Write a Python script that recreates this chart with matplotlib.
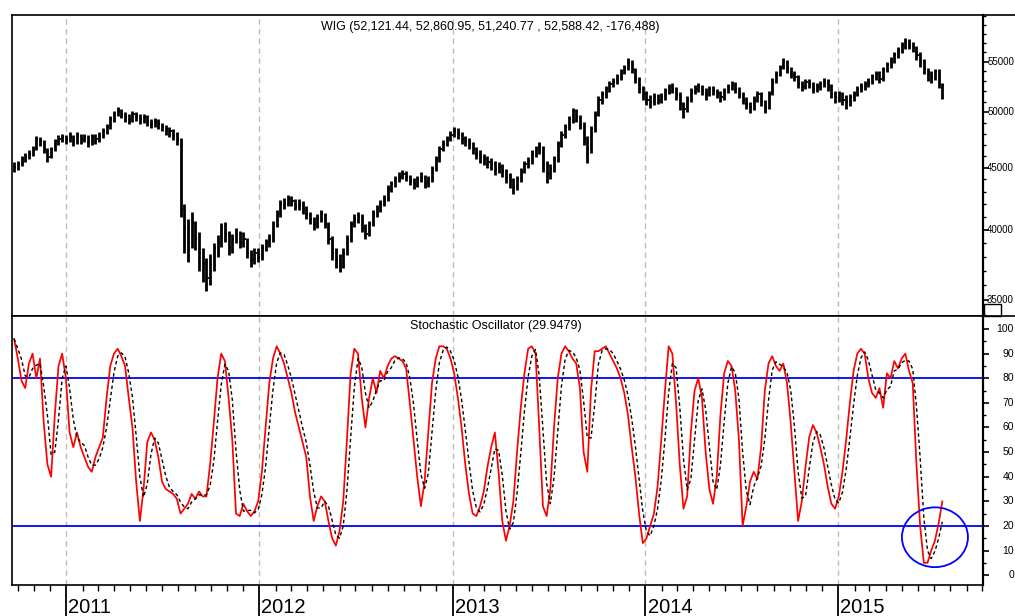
import numpy as np
import pandas as pd
import matplotlib
matplotlib.use("Agg")
import matplotlib.pyplot as plt
import matplotlib.dates as mdates
from matplotlib.patches import Ellipse, Rectangle
from matplotlib.lines import Line2D
from matplotlib.ticker import FixedLocator, NullFormatter
from matplotlib.transforms import blended_transform_factory

plt.rcParams['font.family'] = ['Liberation Sans', 'DejaVu Sans']

# ---------------- data (weekly) ----------------
dates = pd.date_range('2010-09-24', periods=252, freq='7D')

# weekly close, thousands of points
close_k = [45.05,45.3,45.73,45.9,46.15,46.6,47.49,47.3,46.6,45.9,
46.6,47.3,47.5,47.67,47.5,47.7,47.3,47.8,47.5,47.7,
47.3,47.7,47.5,47.8,48.2,48.6,49.3,49.8,50.05,49.8,
49.5,49.3,49.8,49.6,49.3,49.5,49.1,48.85,49.1,48.85,
48.6,48.4,48.2,47.9,47.5,41.6,40.1,39.0,40.5,39.3,
38.25,37.5,36.5,37.5,38.6,39.0,40.1,39.7,38.6,39.3,
39.7,39.0,39.3,38.25,37.75,38.25,38.0,38.6,39.0,39.3,
40.45,41.2,42.0,42.0,42.4,42.2,41.85,42.0,41.6,41.2,
40.85,40.45,40.85,41.2,40.45,39.3,38.25,37.75,37.5,38.25,
39.3,40.45,40.85,41.0,40.1,39.7,40.45,41.2,41.6,42.0,
42.4,43.2,43.6,44.0,44.2,44.45,44.2,43.9,43.6,44.0,
44.2,43.6,44.0,44.9,45.7,46.6,47.05,47.5,47.9,48.2,
47.9,47.5,47.3,47.05,46.6,46.15,45.9,45.7,45.45,45.3,
44.9,45.05,44.7,44.2,43.9,43.4,44.0,44.7,45.3,45.55,
46.15,46.6,46.8,45.3,44.45,44.9,45.7,47.05,47.9,48.6,
49.3,50.05,49.5,48.85,47.5,46.6,48.4,49.8,51.2,51.7,
52.2,52.7,52.95,53.4,54.0,54.4,55.0,54.2,53.2,52.2,
51.7,51.2,51.0,51.4,51.2,51.4,52.0,52.4,52.2,51.7,
50.75,50.25,51.2,52.0,52.2,52.4,52.0,51.7,52.2,52.0,
51.7,51.4,52.0,52.4,52.7,52.2,51.7,51.2,50.75,50.45,
51.2,51.7,51.0,50.45,51.7,52.95,53.7,54.4,55.0,54.2,
53.7,53.4,52.7,52.45,52.95,52.7,52.2,52.45,52.7,52.95,
52.45,51.7,51.4,51.7,51.2,51.0,51.4,51.7,52.2,52.45,
52.7,52.95,53.4,53.7,53.2,54.2,54.7,55.2,55.7,56.25,
56.8,57.1,56.8,56.5,55.7,55.0,54.2,53.7,53.4,54.0,
52.7,52.588]

high_k = [45.5,45.6,46.0,46.3,46.5,46.9,47.8,47.7,47.4,46.7,
46.8,47.5,47.9,48.0,47.9,48.1,47.9,48.1,48.0,48.0,
47.9,48.0,48.0,48.1,48.5,48.9,49.6,50.1,50.5,50.3,
50.0,49.8,50.1,50.0,49.8,49.8,49.7,49.3,49.4,49.3,
49.0,48.8,48.6,48.4,48.1,47.6,42.0,40.8,41.4,40.7,
39.8,38.6,37.9,38.2,39.0,39.6,40.5,40.6,39.9,39.7,
40.1,39.9,39.8,39.4,38.5,38.6,38.6,38.9,39.3,39.7,
40.7,41.5,42.3,42.5,42.7,42.6,42.4,42.4,42.2,41.8,
41.4,41.0,41.2,41.5,41.3,40.6,39.5,38.6,38.2,38.6,
39.6,40.7,41.2,41.4,41.2,40.4,40.7,41.5,41.9,42.3,
42.7,43.5,43.9,44.3,44.6,44.8,44.7,44.4,44.1,44.3,
44.6,44.4,44.3,45.1,46.0,46.9,47.4,47.8,48.2,48.6,
48.5,48.1,47.8,47.6,47.2,46.8,46.5,46.2,46.0,45.8,
45.6,45.5,45.3,44.9,44.5,44.1,44.3,45.0,45.6,45.9,
46.5,46.9,47.2,46.9,45.6,45.3,46.0,47.3,48.2,48.9,
49.6,50.4,50.3,49.7,49.1,47.8,48.7,50.1,51.5,52.0,
52.5,53.0,53.3,53.7,54.3,54.7,55.4,55.2,54.4,53.4,
52.5,52.0,51.6,51.8,51.7,51.8,52.3,52.7,52.8,52.4,
51.9,51.0,51.5,52.3,52.6,52.8,52.6,52.3,52.5,52.5,
52.2,52.0,52.3,52.7,53.0,52.9,52.4,51.9,51.4,51.0,
51.5,52.0,51.9,51.2,52.0,53.3,54.0,54.7,55.4,55.2,
54.5,54.0,53.6,53.0,53.2,53.2,52.9,52.8,53.0,53.3,
53.2,52.7,52.0,52.0,51.9,51.6,51.7,52.0,52.5,52.8,
53.0,53.3,53.7,54.0,54.0,54.5,55.0,55.5,56.0,56.6,
57.1,57.5,57.4,57.1,56.7,56.0,55.3,54.4,54.0,54.3,
54.2,52.861]

low_k = [44.6,44.8,45.1,45.5,45.7,46.0,46.5,46.9,46.3,45.5,
45.8,46.4,47.0,47.2,47.1,47.2,46.9,47.1,47.1,47.2,
46.8,47.0,47.1,47.2,47.6,48.0,48.4,49.1,49.6,49.4,
49.1,48.9,49.1,49.2,48.9,49.0,48.7,48.5,48.6,48.4,
48.2,47.9,47.7,47.4,47.0,41.0,38.3,37.6,38.6,38.5,
37.0,36.2,35.6,36.0,37.0,38.0,38.7,39.1,38.1,38.3,
39.0,38.6,38.7,37.9,37.3,37.5,37.6,37.8,38.4,38.7,
39.1,40.2,41.0,41.6,41.8,41.8,41.5,41.5,41.2,40.8,
40.4,40.0,40.1,40.6,40.1,38.9,37.8,37.2,36.9,37.2,
38.1,39.1,40.2,40.5,39.8,39.3,39.5,40.3,41.0,41.4,
41.8,42.2,43.0,43.4,43.8,44.0,43.9,43.5,43.2,43.4,
43.8,43.3,43.4,43.8,44.7,45.5,46.4,46.9,47.3,47.7,
47.5,47.1,46.9,46.6,46.2,45.7,45.4,45.2,45.0,44.8,
44.4,44.5,44.2,43.7,43.3,42.8,43.1,43.8,44.5,45.0,
45.3,45.9,46.2,44.6,43.7,44.0,44.6,45.5,46.8,47.6,
48.3,49.0,49.1,48.4,47.0,45.4,46.3,48.1,49.6,50.8,
51.3,51.9,52.4,52.7,53.1,53.7,54.1,53.8,52.8,51.8,
51.2,50.7,50.4,50.7,50.8,50.9,51.2,51.7,51.8,51.2,
50.2,49.4,50.0,51.0,51.7,51.9,51.6,51.2,51.5,51.6,
51.3,51.0,51.2,51.8,52.1,51.8,51.3,50.8,50.3,49.9,
50.2,51.0,50.6,49.9,50.3,51.6,52.8,53.5,54.2,53.8,
53.3,53.0,52.3,52.0,52.2,52.3,51.8,51.9,52.1,52.4,
52.0,51.3,50.9,51.0,50.7,50.3,50.6,51.1,51.5,51.9,
52.1,52.4,52.7,53.1,52.8,53.0,53.9,54.4,54.9,55.4,
55.9,56.4,56.3,56.0,55.2,54.5,53.7,53.0,52.8,53.1,
52.3,51.241]

# stochastic oscillator %K and %D
stoch_k = [96,88,79,76,86,90,80,88,62,45,
40,65,85,90,80,58,52,58,52,48,
44,42,48,52,56,72,85,90,92,89,
85,72,60,38,22,35,54,58,55,48,
38,35,34,33,31,25,27,29,33,31,
34,32,32,45,62,80,90,87,72,55,
25,24,29,26,24,26,30,42,60,78,
88,93,90,86,80,74,66,60,54,48,
32,22,28,32,30,22,15,12,18,30,
55,82,92,90,72,60,72,80,74,83,
80,85,88,89,88,87,84,70,55,40,
28,38,58,78,88,93,93,92,88,82,
72,60,45,33,25,24,28,34,44,52,
58,42,22,14,20,30,50,68,82,92,
93,90,60,28,24,35,60,80,90,93,
91,88,86,76,50,42,75,91,91,92,
93,90,87,84,80,74,65,52,40,25,
13,15,20,25,36,55,75,93,90,70,
45,27,32,58,75,80,72,50,35,29,
40,65,82,87,85,75,55,20,28,38,
42,39,52,75,86,89,85,83,86,78,
62,42,22,30,44,56,61,58,52,45,
36,29,27,32,42,55,70,83,90,92,
90,80,74,72,76,68,82,80,87,84,
88,90,83,78,45,20,5,5,10,14,
21,29.9479]

stoch_d = [96,92,87.7,81,80.3,84,85.3,86,76.7,65,
49,50,63.3,80,85,76,63.3,56,54,52.7,
48,44.7,44.7,47.3,52,60,71,82.3,89,90.3,
88.7,82,72.3,56.7,40,31.7,37,49,55.7,53.7,
47,40.3,35.7,34,32.7,29.7,27.7,27,29.7,31,
32.7,32.3,32.7,36.3,46.3,62.3,77.3,85.7,83,71.3,
50.7,34.7,26,26.3,26.3,25.3,26.7,32.7,44,60,
75.3,86.3,90.3,89.7,85.3,80,73.3,66.7,60,54,
44.7,34,27.3,27.3,30,28,22.3,16.3,15,20,
34.3,55.7,76.3,88,84.7,74,68,70.7,75.3,79,
79,82.7,84.3,87.3,88.3,88,86.3,80.3,69.7,55,
41,35.3,41.3,58,74.7,86.3,91.3,92.7,91,87.3,
80.7,71.3,59,46,34.3,27.3,25.7,28.7,35.3,43.3,
51.3,50.7,40.7,26,18.7,21.3,33.3,49.3,66.7,80.7,
89,91.7,81,59.3,37.3,29,39.7,58.3,76.7,87.7,
91.3,90.7,88.3,83.3,70.7,56,55.7,69.3,85.7,91.3,
92,91.7,90,87,83.7,79.3,73,63.7,52.3,39,
26,17.7,16,20,27,38.7,55.3,74.3,86,84.3,
68.3,47.3,34.7,39,55,71,75.7,67.3,52.3,38,
34.7,44.7,62.3,78,84.7,82.3,71.7,50,34.3,28.7,
36,39.7,44.3,55.3,71,83.3,86.7,85.7,84.7,82.3,
75.3,60.7,42,31.3,32,43.3,53.7,58.3,57,51.7,
44.3,36.7,30.7,29.3,33.7,43,55.7,69.3,81,88.3,
90.7,87.3,81.3,75.3,74,72,75.3,76.7,83,83.7,
86.3,87.3,87,83.7,68.7,47.7,23.3,10,6.7,9.7,
15,21.7]

price_ticks = [35000, 40000, 45000, 50000, 55000]
price_minor = [34000, 36000, 37000, 38000, 39000, 41000, 42000, 43000, 44000,
               46000, 47000, 48000, 49000, 51000, 52000, 53000, 54000,
               56000, 57000, 58000, 59000, 60000]
osc_ticks = [0, 10, 20, 30, 40, 50, 60, 70, 80, 90, 100]
osc_levels = [80, 20]
year_labels = ['2011', '2012', '2013', '2014', '2015']
title_top = 'WIG (52,121.44, 52,860.95, 51,240.77 , 52,588.42, -176,488)'
title_bottom = 'Stochastic Oscillator (29.9479)'

# ---------------- layout ----------------
W, H = 1015, 616
fig = plt.figure(figsize=(W / 100, H / 100), dpi=100)
fig.patch.set_facecolor('white')


def box(l, t, r, b):
    return [l / W, 1 - b / H, (r - l) / W, (b - t) / H]


ax1 = fig.add_axes(box(12, 15, 983, 316))
ax2 = fig.add_axes(box(12, 316, 983, 585), sharex=ax1)

high = np.array(high_k) * 1000
low = np.array(low_k) * 1000
close = np.array(close_k) * 1000

# OHLC bars
ax1.vlines(dates, low, high, color='black', lw=2.0, zorder=3)
ax1.hlines(close, dates, dates + pd.Timedelta(days=4), color='black', lw=1.3, zorder=3)

ax1.set_yscale('log')
ax1.set_ylim(33960, 60100)
ax1.yaxis.set_major_locator(FixedLocator(price_ticks))
ax1.yaxis.set_minor_locator(FixedLocator(price_minor))
ax1.yaxis.set_major_formatter(NullFormatter())
ax1.yaxis.set_minor_formatter(NullFormatter())

# oscillator
ax2.plot(dates, stoch_k, color='#ff0000', lw=1.25, zorder=3)
ax2.plot(dates, stoch_d, color='black', lw=1.0, ls=(0, (2.5, 2.0)), zorder=4)
for lv in osc_levels:
    ax2.axhline(lv, color='#0000ff', lw=1.3, zorder=2)
ax2.set_ylim(-4, 105.3)
ax2.yaxis.set_major_locator(FixedLocator(osc_ticks))
ax2.yaxis.set_minor_locator(FixedLocator([v + 5 for v in osc_ticks[:-1]]))
ax2.yaxis.set_major_formatter(NullFormatter())

# highlight ellipse
ell = Ellipse((mdates.date2num(pd.Timestamp('2015-07-03')), 15.4),
              width=125, height=24.3, fill=False, edgecolor='#0000ff', lw=1.3, zorder=5)
ax2.add_patch(ell)

# x axis
ax1.set_xlim(pd.Timestamp('2010-09-20'), pd.Timestamp('2015-10-02'))
ax2.xaxis.set_major_locator(mdates.YearLocator())
ax2.xaxis.set_minor_locator(mdates.MonthLocator())
ax2.xaxis.set_major_formatter(NullFormatter())
ax2.xaxis.set_minor_formatter(NullFormatter())
ax1.tick_params(axis='x', which='both', bottom=False, top=False, labelbottom=False)
ax2.tick_params(axis='x', which='major', direction='out', length=23, width=1.3, color='black')
ax2.tick_params(axis='x', which='minor', direction='out', length=4.5, width=1.0, color='black')

for ax in (ax1, ax2):
    ax.yaxis.tick_right()
    ax.tick_params(axis='y', which='major', direction='out', length=4.5, width=1.2, right=True, left=False)
    ax.tick_params(axis='y', which='minor', direction='out', length=2.5, width=1.0, right=True, left=False)
    for s in ax.spines.values():
        s.set_linewidth(1.2)
        s.set_color('black')
    ax.spines['right'].set_linewidth(1.6)
    ax.set_facecolor('white')
    for yr in year_labels:
        ax.axvline(pd.Timestamp(yr + '-01-01'), color='#bdbdbd', lw=1.0, ls=(0, (4, 3)), zorder=1)

# y tick labels, right aligned just inside the figure edge
tr1 = blended_transform_factory(fig.transFigure, ax1.transData)
for v in price_ticks:
    ax1.text(1014 / W, v, str(v), transform=tr1, ha='right', va='center', fontsize=7.0, clip_on=False)
tr2 = blended_transform_factory(fig.transFigure, ax2.transData)
for v in osc_ticks:
    ax2.text(1014 / W, v, str(v), transform=tr2, ha='right', va='center', fontsize=7.5, clip_on=False)

# year labels
for yr in year_labels:
    ax2.annotate(yr, xy=(pd.Timestamp(yr + '-01-01'), 0), xycoords=('data', 'axes fraction'),
                 xytext=(1.5, -9.5), textcoords='offset points', ha='left', va='top',
                 fontsize=14.5, annotation_clip=False)

# titles
fig.text(490 / W, 1 - 27 / H, title_top, ha='center', va='center', fontsize=9.0)
fig.text(496 / W, 1 - 326 / H, title_bottom, ha='center', va='center', fontsize=9.0)

# frame lines extending to the right edge and small box
for yy in (15, 316):
    fig.add_artist(Line2D([983 / W, 1.0], [1 - yy / H, 1 - yy / H], color='black', lw=1.2))
fig.add_artist(Rectangle((984 / W, 1 - 316 / H), 17 / W, 12 / H, transform=fig.transFigure,
                         fill=False, edgecolor='black', lw=1.0))

fig.savefig('out.png', dpi=100, facecolor='white')
